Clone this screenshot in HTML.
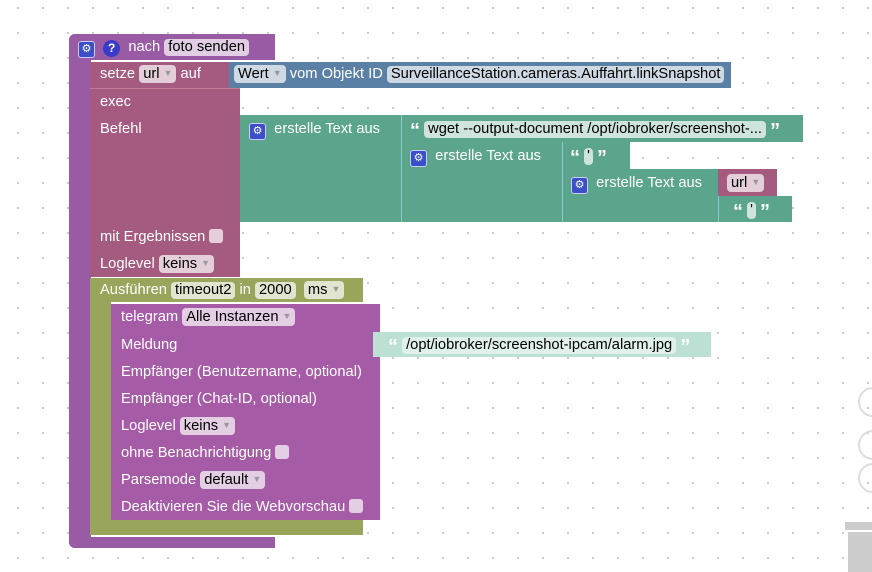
<!DOCTYPE html>
<html><head><meta charset="utf-8"><style>
body{margin:0;width:872px;height:565px;overflow:hidden;background:#fff;
background-image:radial-gradient(circle,#c8c8c8 1px,transparent 1.3px);background-size:25px 25px;background-position:5.5px -4.5px;
font-family:"Liberation Sans",sans-serif;font-size:14.7px;color:#fff;position:relative}
.b{position:absolute}
.t{position:absolute;white-space:nowrap;line-height:18px}
.f{display:inline-block;background:rgba(255,255,255,.7);color:#000;border-radius:4px;padding:0 4px;line-height:17px}
.d{color:#999;font-size:9px;margin-left:4px;vertical-align:2px}
.g{display:inline-block;width:15px;height:15px;background:#3a4fc8;border-radius:3px;border:1px solid #ccf;vertical-align:-1px;text-align:center;font-size:11px;line-height:15px;color:#fff}
.q{display:inline-block;width:17px;height:17px;background:#3a3ac8;border-radius:50%;text-align:center;font-size:12px;line-height:17px;font-weight:bold;vertical-align:-1px}
.cb{display:inline-block;width:14px;height:14px;background:rgba(255,255,255,.7);border-radius:3px;vertical-align:-2px}
.qm{font-size:20px;font-weight:bold;vertical-align:-4px;line-height:10px}
.P{background:#9a5ba5}.M{background:#a55b80}.G{background:#5ba58c}.B{background:#5b80a5}.O{background:#99a55b}.T{background:#a55ba5}
</style></head><body>
<div class="b P" style="left:69px;top:34px;width:206px;height:26px;border-radius:6px 0 0 0"></div>
<div class="b P" style="left:69px;top:34px;width:22px;height:514px;border-radius:6px 0 0 6px"></div>
<div class="b P" style="left:69px;top:537px;width:206px;height:11px;border-radius:0 0 0 6px"></div>
<div class="t" style="left:78px;top:38px"><span class="g">⚙</span> &nbsp;<span class="q">?</span> &nbsp;nach <span class="f">foto senden</span></div>
<div class="b M" style="left:90px;top:62px;width:145px;height:26px"></div>
<div class="b B" style="left:229px;top:62px;width:502px;height:26px"></div>
<div class="t" style="left:100px;top:65px">setze <span class="f">url<span class="d">▼</span></span> auf</div>
<div class="t" style="left:234px;top:65px"><span class="f">Wert<span class="d">▼</span></span> vom Objekt ID <span class="f">SurveillanceStation.cameras.Auffahrt.linkSnapshot</span></div>
<div class="b M" style="left:90px;top:88px;width:150px;height:188px;border-top:1px solid #c07a9a"></div>
<div class="t" style="left:100px;top:93px">exec</div>
<div class="t" style="left:100px;top:120px">Befehl</div>
<div class="t" style="left:100px;top:228px">mit Ergebnissen <span class="cb"></span></div>
<div class="t" style="left:100px;top:255px">Loglevel <span class="f">keins<span class="d">▼</span></span></div>
<div class="b G" style="left:240px;top:115px;width:162px;height:107px"></div>
<div class="b G" style="left:401px;top:115px;width:401px;height:27px;border-left:1px solid #8cc"></div>
<div class="b G" style="left:401px;top:142px;width:161px;height:80px;border-left:1px solid #8cc"></div>
<div class="b G" style="left:562px;top:142px;width:67px;height:27px;border-left:1px solid #8cc"></div>
<div class="b G" style="left:562px;top:169px;width:156px;height:53px;border-left:1px solid #8cc"></div>
<div class="b G" style="left:718px;top:196px;width:73px;height:26px;border-left:1px solid #8cc"></div>
<div class="b M" style="left:718px;top:169px;width:59px;height:27px"></div>
<div class="t" style="left:249px;top:120px"><span class="g">⚙</span> &nbsp;erstelle Text aus</div>
<div class="t" style="left:410px;top:120px"><span class="qm">“</span> <span class="f">wget --output-document /opt/iobroker/screenshot-...</span> <span class="qm">”</span></div>
<div class="t" style="left:410px;top:147px"><span class="g">⚙</span> &nbsp;erstelle Text aus</div>
<div class="t" style="left:570px;top:147px"><span class="qm">“</span> <span class="f" style="padding:0 3px">'</span> <span class="qm">”</span></div>
<div class="t" style="left:571px;top:174px"><span class="g">⚙</span> &nbsp;erstelle Text aus</div>
<div class="t" style="left:727px;top:174px"><span class="f">url<span class="d">▼</span></span></div>
<div class="t" style="left:733px;top:201px"><span class="qm">“</span> <span class="f" style="padding:0 3px">'</span> <span class="qm">”</span></div>
<div class="b O" style="left:90px;top:278px;width:273px;height:24px"></div>
<div class="b O" style="left:90px;top:278px;width:21px;height:257px"></div>
<div class="b O" style="left:90px;top:520px;width:273px;height:15px"></div>
<div class="t" style="left:100px;top:281px">Ausführen <span class="f">timeout2</span> in <span class="f">2000</span> &nbsp;<span class="f">ms<span class="d">▼</span></span></div>
<div class="b T" style="left:111px;top:304px;width:269px;height:216px"></div>
<div class="t" style="left:121px;top:308px">telegram <span class="f">Alle Instanzen<span class="d">▼</span></span></div>
<div class="t" style="left:121px;top:336px">Meldung</div>
<div class="t" style="left:121px;top:363px">Empfänger (Benutzername, optional)</div>
<div class="t" style="left:121px;top:390px">Empfänger (Chat-ID, optional)</div>
<div class="t" style="left:121px;top:417px">Loglevel <span class="f">keins<span class="d">▼</span></span></div>
<div class="t" style="left:121px;top:444px">ohne Benachrichtigung <span class="cb"></span></div>
<div class="t" style="left:121px;top:471px">Parsemode <span class="f">default<span class="d">▼</span></span></div>
<div class="t" style="left:121px;top:498px">Deaktivieren Sie die Webvorschau <span class="cb"></span></div>
<div class="b" style="left:373px;top:332px;width:338px;height:25px;background:#bde0d5"></div>
<div class="t" style="left:388px;top:336px;color:#fff"><span class="qm">“</span> <span class="f" style="background:#e0f0ea">/opt/iobroker/screenshot-ipcam/alarm.jpg</span> <span class="qm">”</span></div>
<div class="b" style="left:858px;top:387px;width:26px;height:26px;border:2px solid #ddd;border-radius:50%"></div>
<div class="b" style="left:858px;top:430px;width:26px;height:26px;border:2px solid #ddd;border-radius:50%"></div>
<div class="b" style="left:858px;top:463px;width:26px;height:26px;border:2px solid #ddd;border-radius:50%"></div>
<div class="b" style="left:845px;top:522px;width:30px;height:8px;background:#ccc"></div>
<div class="b" style="left:848px;top:532px;width:30px;height:40px;background:#ccc"></div>
</body></html>
